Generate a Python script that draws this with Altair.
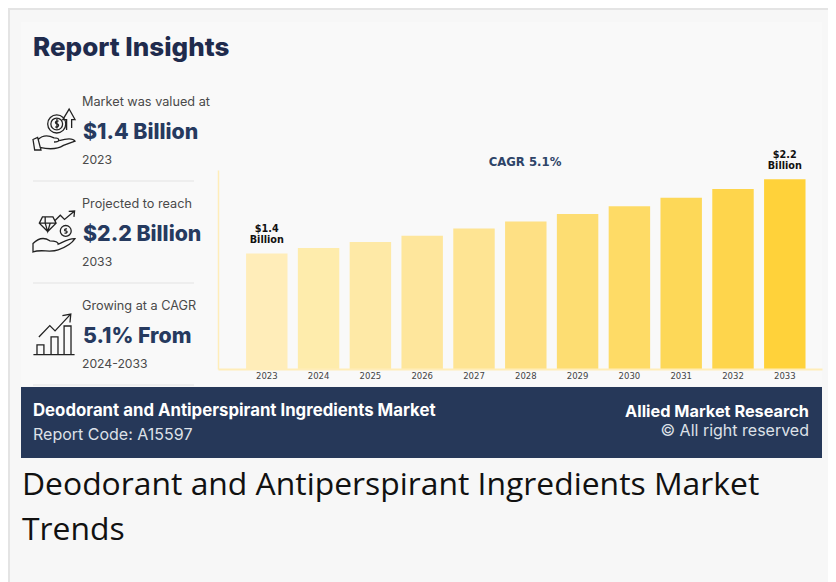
import altair as alt
import pandas as pd

years = ["2023","2024","2025","2026","2027","2028","2029","2030","2031","2032","2033"]
values = [1.40,1.46,1.525,1.59,1.67,1.745,1.825,1.91,2.00,2.095,2.20]
bar_colors = ["#FFEDB9","#FEECAC","#FEE9A6","#FEE69C","#FEE493","#FEE084","#FDDD72","#FEDB66","#FDD858","#FED54C","#FFD23A"]
top_lines = ["$1.4","","","","","","","","","","$2.2"]
low_lines = ["Billion","","","","","","","","","","Billion"]

NAVY = "#263A5F"
DARK = "#1F2B4D"
GREY = "#4A4A4A"
PANEL_X, PANEL_Y = 218, 170   # page position of the plot origin

df = pd.DataFrame({"year": years, "value": values, "top": top_lines, "low": low_lines})
labels_df = df[df["top"] != ""]

x_scale = alt.Scale(domain=years, paddingInner=0.2, paddingOuter=0.43, align=0.63)
y_scale = alt.Scale(domain=[0.155, 2.30], zero=False, clamp=True)

def one():
    return alt.Chart(alt.Data(values=[{"t": 1}]))

def box(x0, y0, x1, y1, color):
    return one().mark_rect(color=color).encode(
        x=alt.value(x0 - PANEL_X), x2=alt.value(x1 - PANEL_X),
        y=alt.value(y0 - PANEL_Y), y2=alt.value(y1 - PANEL_Y))

def line(x0, x1, y, color="#E3E3E3"):
    return one().mark_rule(color=color, strokeWidth=1).encode(
        x=alt.value(x0 - PANEL_X), x2=alt.value(x1 - PANEL_X), y=alt.value(y - PANEL_Y))

def label(text, x, y, size, color, weight="normal", font="Inter", align="left"):
    return alt.Chart(alt.Data(values=[{"t": text}])).mark_text(
        font=font, fontSize=size, fontWeight=weight, color=color, align=align, baseline="alphabetic"
    ).encode(x=alt.value(x - PANEL_X), y=alt.value(y - PANEL_Y), text="t:N")

def icon(path, cx, cy, span=42):
    return one().mark_point(shape=path, size=span * span, filled=False, color="#222222",
                            strokeWidth=1.3, opacity=1).encode(
        x=alt.value(cx - PANEL_X), y=alt.value(cy - PANEL_Y))

HAND1 = ("M-1 .5L-.78 .4L-.62 1L-.92 1Z M-.76 .5C-.5 .25 -.25 .3 0 .42C.3 .42 .3 .62 0 .62 "
         "M-.68 .88C-.2 .98 .2 .95 .45 .78L1 .58C.9 .42 .6 .45 .25 .55")
COIN1 = ("M-.3 -.24A.43 .43 0 1 1 .56 -.24A.43 .43 0 1 1 -.3 -.24Z "
         "M-.15 -.24A.28 .28 0 1 1 .41 -.24A.28 .28 0 1 1 -.15 -.24Z "
         "M.22 -.38C.05 -.42 .03 -.26 .14 -.24C.26 -.22 .24 -.06 .06 -.1 M.14 -.48L.14 -.02")
ARROW1 = "M.6 .05L.6 -.45L.42 -.45L.72 -.95L1 -.45L.84 -.45L.84 -.05"
HAND2 = ("M-1 .95L-1 .55C-.75 .3 -.45 .25 -.2 .42C.05 .42 .2 .45 .2 .58C.4 .5 .7 .3 1 .32C.85 .55 .5 .75 .2 .85"
         "C-.2 1 -.6 .8 -1 .95Z")
GEM = "M-.55 -.72L-.05 -.72L.1 -.42L-.3 -.02L-.7 -.42Z M-.7 -.42L.1 -.42 M-.42 -.42L-.3 -.02L-.18 -.42 M-.42 -.72L-.42 -.42"
COIN2 = "M.3 -.05A.26 .26 0 1 1 .82 -.05A.26 .26 0 1 1 .3 -.05Z M.62 -.15C.48 -.17 .48 -.05 .56 -.05C.66 -.04 .64 .08 .5 .05"
ZIG = "M.05 -.55L.3 -.8L.5 -.6L.95 -.98 M.7 -.98L.98 -1L.95 -.72"
BARS = ("M-.81 .95L-.81 .52L-.48 .52L-.48 .95 M-.14 .95L-.14 .14L.19 .14L.19 .95 "
        "M.48 .95L.48 -.38L.81 -.38L.81 .95 M-.98 .98L.98 .98")
RISE = "M-.72 .14L-.2 -.4L.05 -.15L.75 -.9 M.4 -.88L.8 -.95L.76 -.55"

back = [
    box(8, 8, 828, 582, "#F7F7F7"),
    box(8, 8, 828, 10, "#E4E4E4"),
    box(8, 8, 10, 582, "#E4E4E4"),
    box(21, 22, 822, 386, "#F9F9F9"),
    box(21, 387, 822, 458, "#263859"),
    line(33, 194, 181), line(33, 194, 283), line(33, 194, 385),
]

side = [
    label("Report Insights", 33, 56, 26, DARK, 800),
    label("Market was valued at", 82, 106, 12.7, GREY),
    label("$1.4 Billion", 83, 139, 21.3, NAVY, 800),
    label("2023", 82, 164, 12.2, GREY),
    label("Projected to reach", 82, 208, 12.7, GREY),
    label("$2.2 Billion", 83, 241, 21.3, NAVY, 800),
    label("2033", 82, 266, 12.2, GREY),
    label("Growing at a CAGR", 82, 310, 12.7, GREY),
    label("5.1% From", 83, 343, 21.3, NAVY, 800),
    label("2024-2033", 82, 368, 12.2, GREY),
    icon(HAND1, 54, 129), icon(COIN1, 54, 129), icon(ARROW1, 54, 129),
    icon(HAND2, 54, 232), icon(GEM, 54, 232), icon(COIN2, 54, 232), icon(ZIG, 54, 232),
    icon(BARS, 54, 334), icon(RISE, 54, 334),
]

foot = [
    label("Deodorant and Antiperspirant Ingredients Market", 33, 416, 16.8, "#FFFFFF", 700),
    label("Report Code: A15597", 33, 440, 16, "#DDE1E8"),
    label("Allied Market Research", 809, 417, 16.3, "#FFFFFF", 700, align="right"),
    label("© All right reserved", 809, 436, 16, "#DDE1E8", align="right"),
    label("Deodorant and Antiperspirant Ingredients Market", 22, 495, 31.85, "#111111", font="Open Sans"),
    label("Trends", 22, 540, 31.85, "#111111", font="Open Sans"),
    label("CAGR 5.1%", 525, 166, 11.7, "#2E4468", "bold", font="DejaVu Sans", align="center"),
]

bars = alt.Chart(df).mark_bar(opacity=1).encode(
    x=alt.X("year:N", scale=x_scale, sort=years, title=None,
            axis=alt.Axis(labelAngle=0, ticks=False, grid=False, labelFont="DejaVu Sans", labelFontSize=8.5,
                          labelColor="#444444", labelPadding=2, domainColor="#FFEDB9", domainWidth=2, zindex=1)),
    y=alt.Y("value:Q", scale=y_scale, title=None,
            axis=alt.Axis(labels=False, ticks=False, grid=False, domainColor="#FFEDB9", domainWidth=1.5, zindex=1)),
    y2=alt.value(199),
    color=alt.Color("year:N", scale=alt.Scale(domain=years, range=bar_colors), legend=None),
)

def value_text(field, dy):
    return alt.Chart(labels_df).mark_text(
        font="DejaVu Sans", fontSize=9.7, fontWeight="bold", color="#111111", baseline="alphabetic", dy=dy
    ).encode(x=alt.X("year:N", scale=x_scale, sort=years),
             y=alt.Y("value:Q", scale=y_scale), text=f"{field}:N")

chart = alt.layer(
    *back, bars, value_text("top", -21), value_text("low", -10), *side, *foot
).properties(
    width=604, height=199,
    padding={"left": 210, "top": 162, "right": 6, "bottom": 213},
    autosize=alt.AutoSizeParams(type="none"),
    background="#FFFFFF",
).configure_view(stroke=None)

chart.save("out.html", embed_options={"renderer": "svg", "actions": False})
